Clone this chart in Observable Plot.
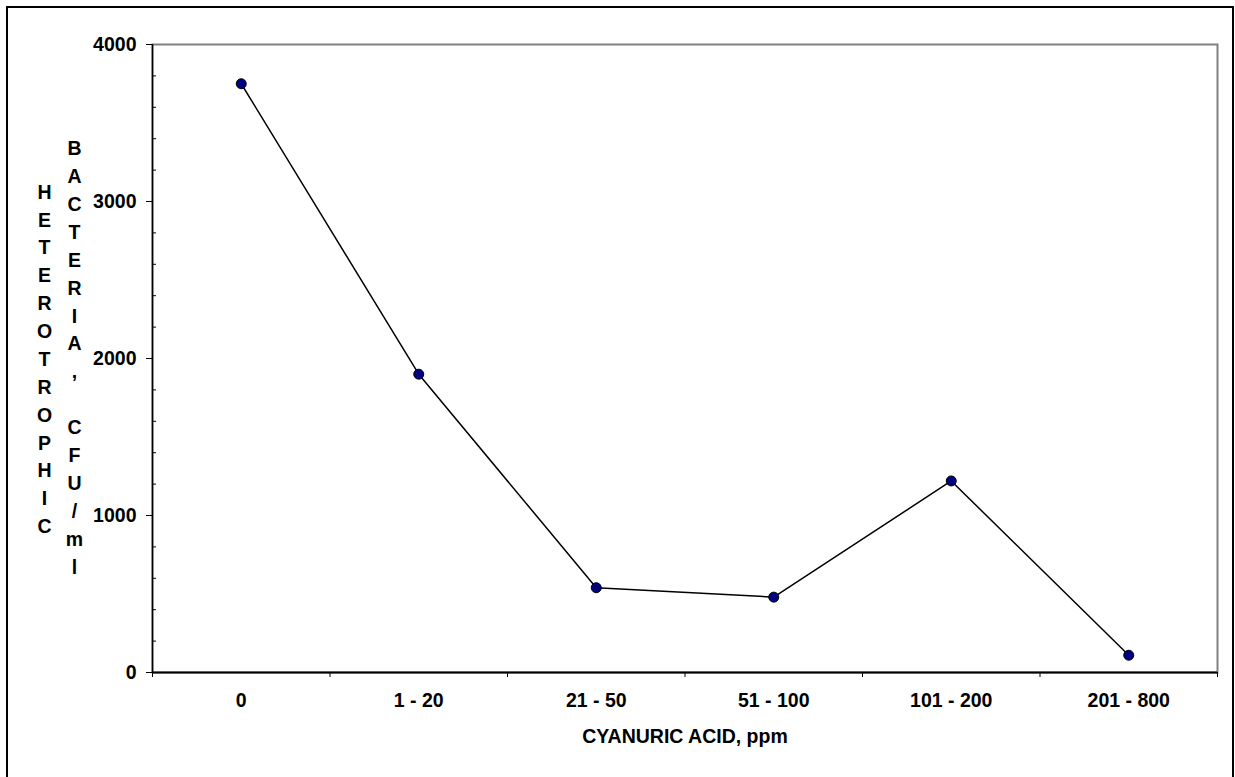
<!DOCTYPE html>
<html>
<head>
<meta charset="utf-8">
<script src="https://cdn.jsdelivr.net/npm/d3@7"></script>
<script src="https://cdn.jsdelivr.net/npm/@observablehq/plot@0.6"></script>
<style>
  html, body { margin: 0; padding: 0; background: #fff; overflow: hidden; }
  #wrap { position: relative; width: 1235px; height: 777px; }
  #border { position: absolute; left: 6px; top: 6px; width: 1224px; height: 800px; border: 2px solid #000; pointer-events: none; }
</style>
</head>
<body>
<div id="wrap"><div id="chart"></div><div id="border"></div></div>
<script>
const categories = ["0", "1 - 20", "21 - 50", "51 - 100", "101 - 200", "201 - 800"];
const bacteria = [3750, 1900, 540, 480, 1220, 110];
const yTicks = [0, 1000, 2000, 3000, 4000];
const yMinorTicks = [200, 400, 600, 800, 1200, 1400, 1600, 1800, 2200, 2400, 2600, 2800, 3200, 3400, 3600, 3800];
const xTitle = "CYANURIC ACID, ppm";
const yTitle1 = "HETEROTROPHIC";
const yTitle2 = "BACTERIA, CFU/ml";

const rows = categories.map((c, i) => ({i, c, v: bacteria[i]}));
const boundaries = categories.map((_, i) => i - 0.5).concat([categories.length - 0.5]);
const stack = s => s.split("").map(ch => ch === " " ? "\u00a0" : ch).join("\n");

const plot = Plot.plot({
  width: 1235,
  height: 777,
  marginLeft: 152,
  marginRight: 18,
  marginTop: 44,
  marginBottom: 105,
  style: {background: "transparent", fontFamily: "'Liberation Sans', Arial, sans-serif", fontWeight: "bold", fontSize: "19.5px", color: "#000"},
  x: {type: "linear", domain: [-0.5, categories.length - 0.5]},
  y: {domain: [0, 4000]},
  marks: [
    Plot.frame({stroke: "#808080", strokeWidth: 2}),
    Plot.axisY({ticks: yMinorTicks, tickSize: -4, tickFormat: () => "", label: null, stroke: "#000"}),
    Plot.axisY({ticks: yTicks, tickSize: 6, tickPadding: 10, tickFormat: d => String(d), label: null, stroke: "#000"}),
    Plot.axisX({ticks: boundaries, tickSize: 5, tickFormat: () => "", label: null, stroke: "#000"}),
    Plot.axisX({ticks: categories.map((_, i) => i), tickSize: 0, tickPadding: 21, tickFormat: i => categories[i], label: null}),
    Plot.ruleY([0], {stroke: "#000", strokeWidth: 2}),
    Plot.ruleX([-0.5], {stroke: "#000", strokeWidth: 1.5}),
    Plot.text([xTitle], {frameAnchor: "bottom", dy: 70, text: d => d, fontWeight: "bold", fontSize: 19.5}),
    Plot.text([stack(yTitle1)], {frameAnchor: "left", dx: -108, dy: -1.5, text: d => d, lineHeight: 1.43, textAnchor: "middle", fontWeight: "bold", fontSize: 19.5}),
    Plot.text([stack(yTitle2)], {frameAnchor: "left", dx: -78, dy: -3, text: d => d, lineHeight: 1.43, textAnchor: "middle", fontWeight: "bold", fontSize: 19.5}),
    Plot.line(rows, {x: "i", y: "v", stroke: "#000", strokeWidth: 1.5}),
    Plot.dot(rows, {x: "i", y: "v", r: 5, fill: "#000080", stroke: "#000", strokeWidth: 1})
  ]
});
document.getElementById("chart").appendChild(plot);
</script>
</body>
</html>
